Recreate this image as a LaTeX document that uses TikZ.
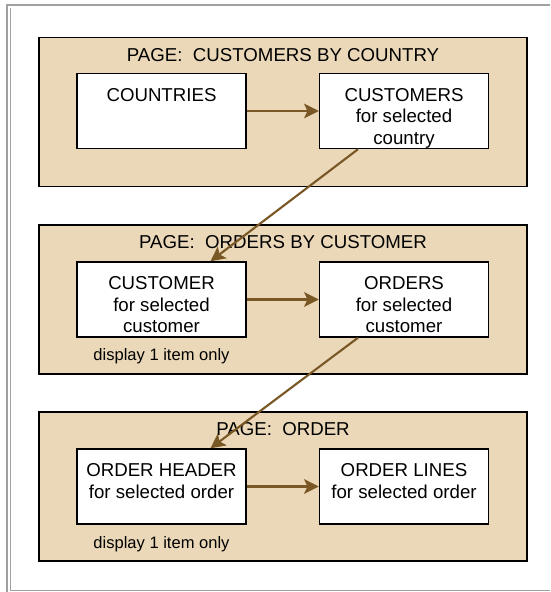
\documentclass[tikz,border=0pt]{standalone}
\usepackage{fontspec}
\setmainfont{Liberation Sans}
\usetikzlibrary{arrows.meta,calc}
\definecolor{pgtan}{RGB}{234,216,184}
\definecolor{pgbrown}{RGB}{122,88,38}
\definecolor{pggray}{RGB}{160,160,160}

\begin{document}
\begin{tikzpicture}[x=0.75pt,y=-0.75pt,
  page/.style={draw=black,line width=1.1pt,fill=pgtan,minimum width=366pt,minimum height=112pt,inner sep=0pt},
  box/.style={draw=black,line width=1.1pt,fill=white,minimum width=126.75pt,minimum height=56.25pt,inner sep=0pt},
  txt/.style={anchor=north,align=center,inner sep=0pt,font=\fontsize{14}{16.1}\selectfont},
  note/.style={inner sep=0pt,font=\fontsize{12.4}{14}\selectfont},
  flow/.style={pgbrown,line width=1.6pt,-{Stealth[length=11pt,width=11pt,inset=2.5pt]}}]
\useasboundingbox (0,0) rectangle (550,592);

% window frame
\draw[pggray,line width=2pt] (7,592) -- (7,5) -- (550,5);
\draw[pggray,line width=1pt] (10.5,8) -- (10.5,590.5) -- (550,590.5);

% pages
\foreach \y/\name/\title in {112/pa/CUSTOMERS BY COUNTRY,299.5/pb/ORDERS BY CUSTOMER,486.5/pc/ORDER} {
  \node[page] (\name) at (283,\y) {};
  \node[txt] (\name-title) at ($(\name.north)+(0,11.4)$) {PAGE:\ \ \title};
}

% lists on each page
\node[box] (countries) at (161.5,111) {};
\node[box] (customers) at (404,111) {};
\node[box] (custsel) at (161.5,299.5) {};
\node[box] (orders) at (404,299.5) {};
\node[box] (ordhead) at (161.5,486.5) {};
\node[box] (ordlines) at (404,486.5) {};

\node[txt] (countries-t) at ($(countries.north)+(0,15.4)$) {COUNTRIES};
\node[txt] (customers-t) at ($(customers.north)+(0,15.4)$) {CUSTOMERS\\for selected\\country};
\node[txt] (custsel-t) at ($(custsel.north)+(0,15.4)$) {CUSTOMER\\for selected\\customer};
\node[txt] (orders-t) at ($(orders.north)+(0,15.4)$) {ORDERS\\for selected\\customer};
\node[txt] (ordhead-t) at ($(ordhead.north)+(0,15.4)$) {ORDER HEADER\\for selected order};
\node[txt] (ordlines-t) at ($(ordlines.north)+(0,15.4)$) {ORDER LINES\\for selected order};

\node[note] (custsel-n) at ($(custsel.south)+(0,18)$) {display 1 item only};
\node[note] (ordhead-n) at ($(ordhead.south)+(0,19)$) {display 1 item only};

% links
\draw[flow] (countries) -- (customers);
\draw[flow] (custsel) -- (orders);
\draw[flow] (ordhead) -- (ordlines);
\draw[flow] ($(customers.south)+(-46,0)$) -- ($(custsel.north)+(49,0)$);
\draw[flow] ($(orders.south)+(-46,0)$) -- ($(ordhead.north)+(49,0)$);
\end{tikzpicture}
\end{document}
